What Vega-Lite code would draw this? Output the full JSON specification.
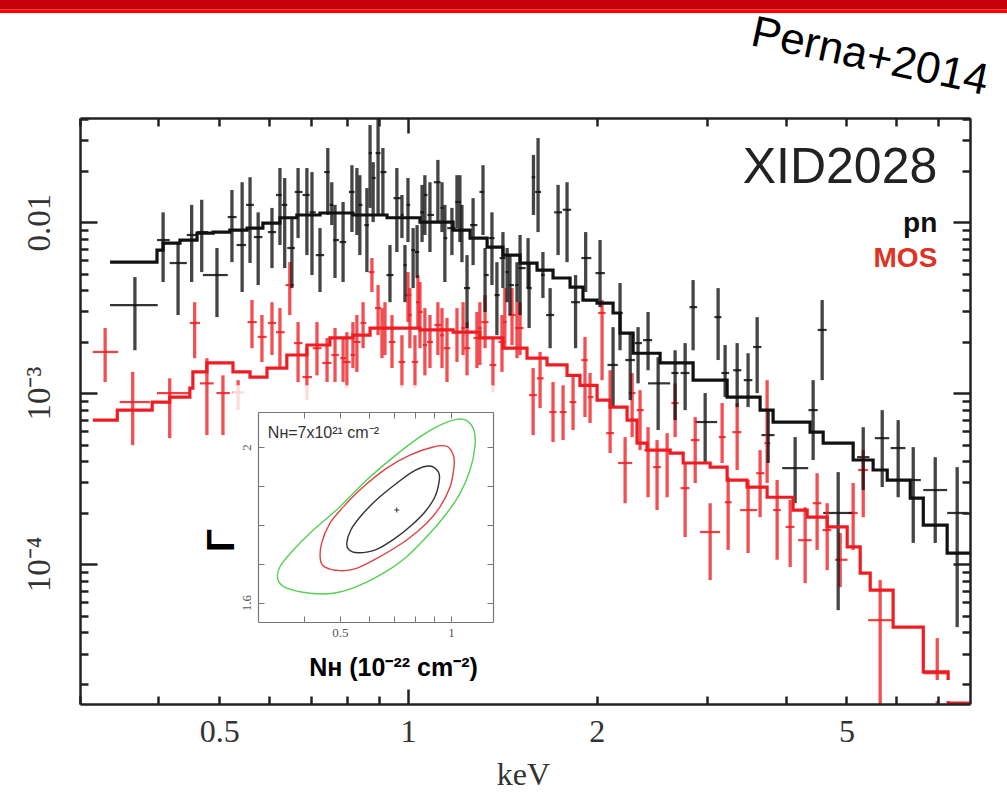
{
"$schema": "https://vega.github.io/schema/vega-lite/v6.json",
"width": 890, "height": 586,
"autosize": {"type": "none"},
"padding": {"left": 80, "top": 118, "right": 37, "bottom": 88},
"background": "white",
"config": {"view": {"stroke": null}},
"datasets": {
"spec": [
{"det":"MOS","e":0.329,"elo":0.3145,"ehi":0.345,"f":0.00174,"flo":0.00116,"fhi":0.0024},
{"det":"MOS","e":0.364,"elo":0.347,"ehi":0.388,"f":0.000886,"flo":0.000496,"fhi":0.00133},
{"det":"MOS","e":0.417,"elo":0.398,"ehi":0.449,"f":0.001,"flo":0.000545,"fhi":0.00122},
{"det":"MOS","e":0.457,"elo":0.449,"ehi":0.466,"f":0.00257,"flo":0.0016,"fhi":0.0034},
{"det":"MOS","e":0.478,"elo":0.466,"ehi":0.49,"f":0.00114,"flo":0.000568,"fhi":0.0016},
{"det":"MOS","e":0.507,"elo":0.495,"ehi":0.52,"f":0.001,"flo":0.000568,"fhi":0.00127},
{"det":"MOS","e":0.536,"elo":0.525,"ehi":0.548,"f":0.00101,"flo":0.000795,"fhi":0.00119},
{"det":"MOS","e":0.564,"elo":0.555,"ehi":0.574,"f":0.0026,"flo":0.00183,"fhi":0.0035},
{"det":"MOS","e":0.585,"elo":0.576,"ehi":0.595,"f":0.00213,"flo":0.00152,"fhi":0.00286},
{"det":"MOS","e":0.607,"elo":0.598,"ehi":0.616,"f":0.00257,"flo":0.00167,"fhi":0.0034},
{"det":"MOS","e":0.625,"elo":0.616,"ehi":0.636,"f":0.00227,"flo":0.0014,"fhi":0.00314},
{"det":"MOS","e":0.648,"elo":0.638,"ehi":0.658,"f":0.00428,"flo":0.00286,"fhi":0.00583},
{"det":"MOS","e":0.668,"elo":0.658,"ehi":0.679,"f":0.00196,"flo":0.00116,"fhi":0.0026},
{"det":"MOS","e":0.69,"elo":0.679,"ehi":0.703,"f":0.00124,"flo":0.00091,"fhi":0.00183},
{"det":"MOS","e":0.716,"elo":0.705,"ehi":0.728,"f":0.00183,"flo":0.00127,"fhi":0.0026},
{"det":"MOS","e":0.743,"elo":0.73,"ehi":0.755,"f":0.0015,"flo":0.00116,"fhi":0.0021},
{"det":"MOS","e":0.765,"elo":0.755,"ehi":0.776,"f":0.00167,"flo":0.00116,"fhi":0.0024},
{"det":"MOS","e":0.788,"elo":0.78,"ehi":0.796,"f":0.0016,"flo":0.00116,"fhi":0.0021},
{"det":"MOS","e":0.799,"elo":0.788,"ehi":0.81,"f":0.00152,"flo":0.00107,"fhi":0.00227},
{"det":"MOS","e":0.817,"elo":0.81,"ehi":0.824,"f":0.00167,"flo":0.0014,"fhi":0.0026},
{"det":"MOS","e":0.829,"elo":0.818,"ehi":0.84,"f":0.00199,"flo":0.00133,"fhi":0.00286},
{"det":"MOS","e":0.848,"elo":0.84,"ehi":0.858,"f":0.00257,"flo":0.00183,"fhi":0.0034},
{"det":"MOS","e":0.876,"elo":0.866,"ehi":0.884,"f":0.0051,"flo":0.0039,"fhi":0.00616},
{"det":"MOS","e":0.896,"elo":0.886,"ehi":0.906,"f":0.00314,"flo":0.00218,"fhi":0.00428},
{"det":"MOS","e":0.909,"elo":0.902,"ehi":0.916,"f":0.0024,"flo":0.0016,"fhi":0.00314},
{"det":"MOS","e":0.919,"elo":0.908,"ehi":0.93,"f":0.0024,"flo":0.00167,"fhi":0.0034},
{"det":"MOS","e":0.943,"elo":0.932,"ehi":0.955,"f":0.00199,"flo":0.0014,"fhi":0.00286},
{"det":"MOS","e":0.978,"elo":0.966,"ehi":0.99,"f":0.00152,"flo":0.00107,"fhi":0.00218},
{"det":"MOS","e":1.0,"elo":0.99,"ehi":1.012,"f":0.00374,"flo":0.0026,"fhi":0.0051},
{"det":"MOS","e":1.007,"elo":1.0,"ehi":1.014,"f":0.00286,"flo":0.00183,"fhi":0.00411},
{"det":"MOS","e":1.026,"elo":1.014,"ehi":1.038,"f":0.00152,"flo":0.00107,"fhi":0.00218},
{"det":"MOS","e":1.037,"elo":1.03,"ehi":1.044,"f":0.0034,"flo":0.0024,"fhi":0.0049},
{"det":"MOS","e":1.045,"elo":1.038,"ehi":1.055,"f":0.00298,"flo":0.00183,"fhi":0.00446},
{"det":"MOS","e":1.064,"elo":1.056,"ehi":1.072,"f":0.00191,"flo":0.00127,"fhi":0.00314},
{"det":"MOS","e":1.084,"elo":1.072,"ehi":1.096,"f":0.00199,"flo":0.0014,"fhi":0.00286},
{"det":"MOS","e":1.116,"elo":1.102,"ehi":1.13,"f":0.0025,"flo":0.00167,"fhi":0.0034},
{"det":"MOS","e":1.133,"elo":1.125,"ehi":1.141,"f":0.00218,"flo":0.0014,"fhi":0.00314},
{"det":"MOS","e":1.154,"elo":1.14,"ehi":1.168,"f":0.00183,"flo":0.00116,"fhi":0.00275},
{"det":"MOS","e":1.197,"elo":1.182,"ehi":1.212,"f":0.00227,"flo":0.00152,"fhi":0.00314},
{"det":"MOS","e":1.224,"elo":1.216,"ehi":1.232,"f":0.0024,"flo":0.00167,"fhi":0.0034},
{"det":"MOS","e":1.242,"elo":1.227,"ehi":1.257,"f":0.00183,"flo":0.00127,"fhi":0.0026},
{"det":"MOS","e":1.288,"elo":1.272,"ehi":1.304,"f":0.0021,"flo":0.0014,"fhi":0.00298},
{"det":"MOS","e":1.302,"elo":1.294,"ehi":1.31,"f":0.0024,"flo":0.00146,"fhi":0.0034},
{"det":"MOS","e":1.327,"elo":1.31,"ehi":1.344,"f":0.0026,"flo":0.00183,"fhi":0.00374},
{"det":"MOS","e":1.366,"elo":1.349,"ehi":1.383,"f":0.00146,"flo":0.00101,"fhi":0.0021},
{"det":"MOS","e":1.412,"elo":1.394,"ehi":1.43,"f":0.00199,"flo":0.00133,"fhi":0.00286},
{"det":"MOS","e":1.427,"elo":1.418,"ehi":1.436,"f":0.0026,"flo":0.00183,"fhi":0.00411},
{"det":"MOS","e":1.465,"elo":1.446,"ehi":1.484,"f":0.00286,"flo":0.00191,"fhi":0.00411},
{"det":"MOS","e":1.492,"elo":1.483,"ehi":1.5,"f":0.0024,"flo":0.0016,"fhi":0.0034},
{"det":"MOS","e":1.509,"elo":1.49,"ehi":1.528,"f":0.0024,"flo":0.00167,"fhi":0.0034},
{"det":"MOS","e":1.583,"elo":1.56,"ehi":1.605,"f":0.000973,"flo":0.000568,"fhi":0.0014},
{"det":"MOS","e":1.624,"elo":1.605,"ehi":1.645,"f":0.00122,"flo":0.000817,"fhi":0.00174},
{"det":"MOS","e":1.703,"elo":1.68,"ehi":1.725,"f":0.000774,"flo":0.000517,"fhi":0.00116},
{"det":"MOS","e":1.767,"elo":1.745,"ehi":1.79,"f":0.000774,"flo":0.000531,"fhi":0.00111},
{"det":"MOS","e":1.833,"elo":1.81,"ehi":1.855,"f":0.000886,"flo":0.000608,"fhi":0.00127},
{"det":"MOS","e":1.915,"elo":1.89,"ehi":1.935,"f":0.00156,"flo":0.000724,"fhi":0.00213},
{"det":"MOS","e":1.951,"elo":1.935,"ehi":1.975,"f":0.000947,"flo":0.000668,"fhi":0.00131},
{"det":"MOS","e":2.039,"elo":2.01,"ehi":2.065,"f":0.00294,"flo":0.00119,"fhi":0.0035},
{"det":"MOS","e":2.1,"elo":2.07,"ehi":2.13,"f":0.000583,"flo":0.000446,"fhi":0.00136},
{"det":"MOS","e":2.219,"elo":2.162,"ehi":2.277,"f":0.00039,"flo":0.000227,"fhi":0.000553},
{"det":"MOS","e":2.277,"elo":2.25,"ehi":2.305,"f":0.001,"flo":0.000553,"fhi":0.00131},
{"det":"MOS","e":2.344,"elo":2.315,"ehi":2.375,"f":0.000795,"flo":0.000464,"fhi":0.00104},
{"det":"MOS","e":2.414,"elo":2.38,"ehi":2.45,"f":0.000464,"flo":0.000246,"fhi":0.000632},
{"det":"MOS","e":2.495,"elo":2.46,"ehi":2.53,"f":0.000369,"flo":0.000207,"fhi":0.000531},
{"det":"MOS","e":2.589,"elo":2.55,"ehi":2.625,"f":0.000464,"flo":0.000246,"fhi":0.000583},
{"det":"MOS","e":2.666,"elo":2.63,"ehi":2.7,"f":0.000874,"flo":0.000553,"fhi":0.00114},
{"det":"MOS","e":2.766,"elo":2.72,"ehi":2.81,"f":0.000278,"flo":0.000144,"fhi":0.00039},
{"det":"MOS","e":2.87,"elo":2.825,"ehi":2.915,"f":0.000531,"flo":0.000298,"fhi":0.000724},
{"det":"MOS","e":3.032,"elo":2.922,"ehi":3.145,"f":0.000154,"flo":0.0000806,"fhi":0.000227},
{"det":"MOS","e":3.168,"elo":3.13,"ehi":3.21,"f":0.000553,"flo":0.00039,"fhi":0.000874},
{"det":"MOS","e":3.239,"elo":3.2,"ehi":3.28,"f":0.00023,"flo":0.000121,"fhi":0.000323},
{"det":"MOS","e":3.348,"elo":3.29,"ehi":3.4,"f":0.000591,"flo":0.000355,"fhi":0.000874},
{"det":"MOS","e":3.485,"elo":3.385,"ehi":3.603,"f":0.000207,"flo":0.000116,"fhi":0.00031},
{"det":"MOS","e":3.642,"elo":3.59,"ehi":3.7,"f":0.00034,"flo":0.000188,"fhi":0.000464},
{"det":"MOS","e":3.737,"elo":3.7,"ehi":3.78,"f":0.00051,"flo":0.000298,"fhi":0.00119},
{"det":"MOS","e":3.877,"elo":3.82,"ehi":3.93,"f":0.000207,"flo":0.000106,"fhi":0.00031},
{"det":"MOS","e":4.067,"elo":4.0,"ehi":4.13,"f":0.000165,"flo":0.0000961,"fhi":0.000237},
{"det":"MOS","e":4.297,"elo":4.188,"ehi":4.4,"f":0.000138,"flo":0.0000774,"fhi":0.000215},
{"det":"MOS","e":4.49,"elo":4.42,"ehi":4.56,"f":0.000227,"flo":0.000121,"fhi":0.00034},
{"det":"MOS","e":4.659,"elo":4.58,"ehi":4.73,"f":0.000158,"flo":0.0000922,"fhi":0.000227},
{"det":"MOS","e":4.887,"elo":4.797,"ehi":5.02,"f":0.000106,"flo":0.0000733,"fhi":0.000152},
{"det":"MOS","e":5.125,"elo":5.04,"ehi":5.21,"f":0.000199,"flo":0.000121,"fhi":0.000298},
{"det":"MOS","e":5.318,"elo":5.22,"ehi":5.41,"f":0.000355,"flo":0.000188,"fhi":0.000464},
{"det":"MOS","e":5.659,"elo":5.415,"ehi":5.935,"f":0.000047,"flo":0.0000152,"fhi":0.0000806},
{"det":"MOS","e":6.979,"elo":6.63,"ehi":7.263,"f":0.000023,"flo":0.0000152,"fhi":0.0000369},
{"det":"pn","e":0.367,"elo":0.335,"ehi":0.399,"f":0.00327,"flo":0.00178,"fhi":0.00477},
{"det":"pn","e":0.407,"elo":0.398,"ehi":0.417,"f":0.00785,"flo":0.00446,"fhi":0.0114},
{"det":"pn","e":0.43,"elo":0.417,"ehi":0.444,"f":0.00576,"flo":0.00286,"fhi":0.00754},
{"det":"pn","e":0.452,"elo":0.444,"ehi":0.461,"f":0.0084,"flo":0.00446,"fhi":0.0126},
{"det":"pn","e":0.469,"elo":0.461,"ehi":0.48,"f":0.00874,"flo":0.0051,"fhi":0.0135},
{"det":"pn","e":0.496,"elo":0.471,"ehi":0.516,"f":0.0049,"flo":0.00278,"fhi":0.00705},
{"det":"pn","e":0.524,"elo":0.516,"ehi":0.533,"f":0.0107,"flo":0.00583,"fhi":0.0154},
{"det":"pn","e":0.544,"elo":0.533,"ehi":0.552,"f":0.00734,"flo":0.0039,"fhi":0.0171},
{"det":"pn","e":0.56,"elo":0.552,"ehi":0.568,"f":0.0126,"flo":0.00576,"fhi":0.0183},
{"det":"pn","e":0.577,"elo":0.568,"ehi":0.586,"f":0.00817,"flo":0.00428,"fhi":0.0114},
{"det":"pn","e":0.607,"elo":0.598,"ehi":0.616,"f":0.00874,"flo":0.00538,"fhi":0.0121},
{"det":"pn","e":0.625,"elo":0.616,"ehi":0.629,"f":0.0144,"flo":0.00734,"fhi":0.0207},
{"det":"pn","e":0.636,"elo":0.629,"ehi":0.642,"f":0.0126,"flo":0.00538,"fhi":0.0181},
{"det":"pn","e":0.653,"elo":0.642,"ehi":0.66,"f":0.00705,"flo":0.00411,"fhi":0.0106},
{"det":"pn","e":0.668,"elo":0.66,"ehi":0.679,"f":0.015,"flo":0.00806,"fhi":0.0207},
{"det":"pn","e":0.69,"elo":0.679,"ehi":0.697,"f":0.0144,"flo":0.00641,"fhi":0.0207},
{"det":"pn","e":0.703,"elo":0.697,"ehi":0.713,"f":0.0114,"flo":0.0049,"fhi":0.0196},
{"det":"pn","e":0.724,"elo":0.713,"ehi":0.735,"f":0.00641,"flo":0.0039,"fhi":0.00922},
{"det":"pn","e":0.745,"elo":0.735,"ehi":0.75,"f":0.0196,"flo":0.011,"fhi":0.0271},
{"det":"pn","e":0.756,"elo":0.75,"ehi":0.76,"f":0.0126,"flo":0.0096,"fhi":0.0171},
{"det":"pn","e":0.765,"elo":0.76,"ehi":0.776,"f":0.00785,"flo":0.00471,"fhi":0.0126},
{"det":"pn","e":0.788,"elo":0.778,"ehi":0.797,"f":0.00764,"flo":0.00446,"fhi":0.0131},
{"det":"pn","e":0.814,"elo":0.805,"ehi":0.822,"f":0.015,"flo":0.00874,"fhi":0.0215},
{"det":"pn","e":0.829,"elo":0.822,"ehi":0.834,"f":0.011,"flo":0.0084,"fhi":0.0207},
{"det":"pn","e":0.838,"elo":0.834,"ehi":0.846,"f":0.0126,"flo":0.00641,"fhi":0.0188},
{"det":"pn","e":0.86,"elo":0.852,"ehi":0.866,"f":0.0096,"flo":0.0051,"fhi":0.0158},
{"det":"pn","e":0.87,"elo":0.866,"ehi":0.876,"f":0.0253,"flo":0.0121,"fhi":0.0369},
{"det":"pn","e":0.88,"elo":0.876,"ehi":0.888,"f":0.0181,"flo":0.01,"fhi":0.0224},
{"det":"pn","e":0.896,"elo":0.888,"ehi":0.904,"f":0.0253,"flo":0.011,"fhi":0.0406},
{"det":"pn","e":0.912,"elo":0.904,"ehi":0.924,"f":0.0196,"flo":0.011,"fhi":0.0271},
{"det":"pn","e":0.936,"elo":0.924,"ehi":0.948,"f":0.0049,"flo":0.0034,"fhi":0.00734},
{"det":"pn","e":0.96,"elo":0.948,"ehi":0.974,"f":0.0138,"flo":0.00668,"fhi":0.0207},
{"det":"pn","e":0.978,"elo":0.974,"ehi":0.984,"f":0.011,"flo":0.00806,"fhi":0.0144},
{"det":"pn","e":0.989,"elo":0.984,"ehi":0.995,"f":0.0056,"flo":0.0034,"fhi":0.00734},
{"det":"pn","e":1.0,"elo":0.995,"ehi":1.008,"f":0.0126,"flo":0.00764,"fhi":0.0181},
{"det":"pn","e":1.019,"elo":1.012,"ehi":1.026,"f":0.00686,"flo":0.00411,"fhi":0.00922},
{"det":"pn","e":1.034,"elo":1.026,"ehi":1.042,"f":0.00668,"flo":0.00471,"fhi":0.0096},
{"det":"pn","e":1.053,"elo":1.046,"ehi":1.06,"f":0.0114,"flo":0.00764,"fhi":0.0165},
{"det":"pn","e":1.064,"elo":1.06,"ehi":1.074,"f":0.0144,"flo":0.0084,"fhi":0.0188},
{"det":"pn","e":1.084,"elo":1.074,"ehi":1.1,"f":0.011,"flo":0.00668,"fhi":0.0171},
{"det":"pn","e":1.116,"elo":1.1,"ehi":1.127,"f":0.0171,"flo":0.01,"fhi":0.0231},
{"det":"pn","e":1.133,"elo":1.127,"ehi":1.14,"f":0.0121,"flo":0.00874,"fhi":0.0171},
{"det":"pn","e":1.145,"elo":1.14,"ehi":1.155,"f":0.00806,"flo":0.00446,"fhi":0.0126},
{"det":"pn","e":1.175,"elo":1.155,"ehi":1.19,"f":0.00922,"flo":0.00641,"fhi":0.0121},
{"det":"pn","e":1.197,"elo":1.19,"ehi":1.205,"f":0.0131,"flo":0.00922,"fhi":0.0188},
{"det":"pn","e":1.21,"elo":1.205,"ehi":1.215,"f":0.0131,"flo":0.00764,"fhi":0.0188},
{"det":"pn","e":1.219,"elo":1.215,"ehi":1.228,"f":0.00898,"flo":0.00583,"fhi":0.0126},
{"det":"pn","e":1.242,"elo":1.228,"ehi":1.256,"f":0.00411,"flo":0.0024,"fhi":0.00641},
{"det":"pn","e":1.27,"elo":1.256,"ehi":1.29,"f":0.0096,"flo":0.0056,"fhi":0.0138},
{"det":"pn","e":1.317,"elo":1.3,"ehi":1.322,"f":0.015,"flo":0.0084,"fhi":0.0215},
{"det":"pn","e":1.327,"elo":1.322,"ehi":1.345,"f":0.0049,"flo":0.00298,"fhi":0.00705},
{"det":"pn","e":1.361,"elo":1.345,"ehi":1.374,"f":0.00806,"flo":0.00428,"fhi":0.0114},
{"det":"pn","e":1.386,"elo":1.374,"ehi":1.4,"f":0.00374,"flo":0.00218,"fhi":0.00583},
{"det":"pn","e":1.417,"elo":1.4,"ehi":1.43,"f":0.00616,"flo":0.00411,"fhi":0.00874},
{"det":"pn","e":1.439,"elo":1.43,"ehi":1.448,"f":0.0051,"flo":0.0034,"fhi":0.00705},
{"det":"pn","e":1.454,"elo":1.448,"ehi":1.475,"f":0.00428,"flo":0.00286,"fhi":0.00641},
{"det":"pn","e":1.492,"elo":1.483,"ehi":1.5,"f":0.00428,"flo":0.0034,"fhi":0.00583},
{"det":"pn","e":1.509,"elo":1.5,"ehi":1.54,"f":0.00538,"flo":0.00286,"fhi":0.0084},
{"det":"pn","e":1.554,"elo":1.545,"ehi":1.563,"f":0.00576,"flo":0.00411,"fhi":0.00806},
{"det":"pn","e":1.56,"elo":1.545,"ehi":1.575,"f":0.00411,"flo":0.0024,"fhi":0.00583},
{"det":"pn","e":1.585,"elo":1.575,"ehi":1.595,"f":0.0183,"flo":0.011,"fhi":0.0247},
{"det":"pn","e":1.612,"elo":1.595,"ehi":1.63,"f":0.015,"flo":0.00874,"fhi":0.031},
{"det":"pn","e":1.641,"elo":1.63,"ehi":1.652,"f":0.0049,"flo":0.0036,"fhi":0.00668},
{"det":"pn","e":1.685,"elo":1.66,"ehi":1.71,"f":0.00286,"flo":0.00183,"fhi":0.00411},
{"det":"pn","e":1.735,"elo":1.71,"ehi":1.76,"f":0.0114,"flo":0.00641,"fhi":0.0165},
{"det":"pn","e":1.793,"elo":1.765,"ehi":1.82,"f":0.0118,"flo":0.00583,"fhi":0.0171},
{"det":"pn","e":1.85,"elo":1.82,"ehi":1.88,"f":0.0034,"flo":0.00183,"fhi":0.0049},
{"det":"pn","e":1.92,"elo":1.89,"ehi":1.96,"f":0.00616,"flo":0.0039,"fhi":0.00874},
{"det":"pn","e":2.024,"elo":1.99,"ehi":2.06,"f":0.00503,"flo":0.00318,"fhi":0.00785},
{"det":"pn","e":2.123,"elo":2.08,"ehi":2.16,"f":0.00146,"flo":0.000828,"fhi":0.00243},
{"det":"pn","e":2.178,"elo":2.16,"ehi":2.2,"f":0.00294,"flo":0.00178,"fhi":0.0044},
{"det":"pn","e":2.261,"elo":2.22,"ehi":2.3,"f":0.00156,"flo":0.00091,"fhi":0.00224},
{"det":"pn","e":2.327,"elo":2.3,"ehi":2.36,"f":0.00196,"flo":0.00114,"fhi":0.00243},
{"det":"pn","e":2.414,"elo":2.37,"ehi":2.45,"f":0.00204,"flo":0.00136,"fhi":0.00298},
{"det":"pn","e":2.505,"elo":2.414,"ehi":2.618,"f":0.00114,"flo":0.000608,"fhi":0.00162},
{"det":"pn","e":2.666,"elo":2.63,"ehi":2.7,"f":0.00131,"flo":0.000695,"fhi":0.00178},
{"det":"pn","e":2.766,"elo":2.72,"ehi":2.81,"f":0.00131,"flo":0.000795,"fhi":0.00196},
{"det":"pn","e":2.848,"elo":2.81,"ehi":2.89,"f":0.00318,"flo":0.00178,"fhi":0.00458},
{"det":"pn","e":2.977,"elo":2.87,"ehi":3.111,"f":0.000677,"flo":0.00039,"fhi":0.001},
{"det":"pn","e":3.122,"elo":3.08,"ehi":3.16,"f":0.00278,"flo":0.00156,"fhi":0.00411},
{"det":"pn","e":3.203,"elo":3.16,"ehi":3.25,"f":0.00131,"flo":0.000947,"fhi":0.00191},
{"det":"pn","e":3.348,"elo":3.3,"ehi":3.4,"f":0.00136,"flo":0.000828,"fhi":0.00196},
{"det":"pn","e":3.485,"elo":3.43,"ehi":3.54,"f":0.00119,"flo":0.000828,"fhi":0.00171},
{"det":"pn","e":3.603,"elo":3.55,"ehi":3.66,"f":0.00186,"flo":0.001,"fhi":0.00278},
{"det":"pn","e":3.752,"elo":3.66,"ehi":3.84,"f":0.000568,"flo":0.00039,"fhi":0.000795},
{"det":"pn","e":4.142,"elo":3.95,"ehi":4.345,"f":0.000364,"flo":0.000227,"fhi":0.000553},
{"det":"pn","e":4.425,"elo":4.35,"ehi":4.5,"f":0.000795,"flo":0.000406,"fhi":0.00119},
{"det":"pn","e":4.574,"elo":4.5,"ehi":4.65,"f":0.00234,"flo":0.00119,"fhi":0.0035},
{"det":"pn","e":4.851,"elo":4.591,"ehi":5.125,"f":0.000199,"flo":0.0000538,"fhi":0.000345},
{"det":"pn","e":5.318,"elo":5.2,"ehi":5.44,"f":0.000422,"flo":0.000271,"fhi":0.000632},
{"det":"pn","e":5.702,"elo":5.55,"ehi":5.85,"f":0.000545,"flo":0.000282,"fhi":0.000795},
{"det":"pn","e":6.046,"elo":5.88,"ehi":6.21,"f":0.000477,"flo":0.000246,"fhi":0.000695},
{"det":"pn","e":6.39,"elo":6.21,"ehi":6.57,"f":0.00031,"flo":0.000133,"fhi":0.000483},
{"det":"pn","e":6.927,"elo":6.63,"ehi":7.237,"f":0.000271,"flo":0.000133,"fhi":0.000422},
{"det":"pn","e":7.508,"elo":7.237,"ehi":7.8,"f":0.000199,"flo":0.0000428,"fhi":0.000369}
],
"model": [
{"det":"MOS","e":0.3145,"f":0.000695},{"det":"MOS","e":0.344,"f":0.000795},{"det":"MOS","e":0.391,"f":0.000886},{"det":"MOS","e":0.417,"f":0.000947},{"det":"MOS","e":0.449,"f":0.00107},{"det":"MOS","e":0.454,"f":0.00133},{"det":"MOS","e":0.478,"f":0.0015},{"det":"MOS","e":0.526,"f":0.00133},{"det":"MOS","e":0.56,"f":0.00124},{"det":"MOS","e":0.596,"f":0.0014},{"det":"MOS","e":0.641,"f":0.00167},{"det":"MOS","e":0.69,"f":0.00191},{"det":"MOS","e":0.751,"f":0.0021},{"det":"MOS","e":0.817,"f":0.00218},{"det":"MOS","e":0.87,"f":0.0024},{"det":"MOS","e":1.045,"f":0.00234},{"det":"MOS","e":1.18,"f":0.00227},{"det":"MOS","e":1.302,"f":0.0021},{"det":"MOS","e":1.417,"f":0.00183},{"det":"MOS","e":1.548,"f":0.0016},{"det":"MOS","e":1.666,"f":0.00146},{"det":"MOS","e":1.793,"f":0.00127},{"det":"MOS","e":1.88,"f":0.00111},{"det":"MOS","e":2.002,"f":0.00091},{"det":"MOS","e":2.1,"f":0.000828},{"det":"MOS","e":2.235,"f":0.000695},{"det":"MOS","e":2.318,"f":0.00051},{"det":"MOS","e":2.405,"f":0.000464},{"det":"MOS","e":2.618,"f":0.000446},{"det":"MOS","e":2.746,"f":0.00039},{"det":"MOS","e":3.032,"f":0.000369},{"det":"MOS","e":3.227,"f":0.00031},{"det":"MOS","e":3.472,"f":0.000282},{"det":"MOS","e":3.737,"f":0.000246},{"det":"MOS","e":4.111,"f":0.000207},{"det":"MOS","e":4.329,"f":0.000188},{"det":"MOS","e":4.659,"f":0.000165},{"det":"MOS","e":5.014,"f":0.000126},{"det":"MOS","e":5.259,"f":0.0000886},{"det":"MOS","e":5.456,"f":0.0000705},{"det":"MOS","e":5.935,"f":0.0000428},{"det":"MOS","e":6.63,"f":0.0000234},{"det":"MOS","e":7.263,"f":0.0000154},{"det":"MOS","e":7.87,"f":0.0000154},
{"det":"pn","e":0.335,"f":0.00583},{"det":"pn","e":0.398,"f":0.00686},{"det":"pn","e":0.407,"f":0.00754},{"det":"pn","e":0.433,"f":0.00785},{"det":"pn","e":0.461,"f":0.00862},{"det":"pn","e":0.489,"f":0.00874},{"det":"pn","e":0.52,"f":0.00898},{"det":"pn","e":0.554,"f":0.00922},{"det":"pn","e":0.587,"f":0.00987},{"det":"pn","e":0.625,"f":0.0106},{"det":"pn","e":0.665,"f":0.011},{"det":"pn","e":0.724,"f":0.0113},{"det":"pn","e":0.817,"f":0.011},{"det":"pn","e":0.926,"f":0.0106},{"det":"pn","e":1.045,"f":0.01},{"det":"pn","e":1.18,"f":0.00898},{"det":"pn","e":1.256,"f":0.00806},{"det":"pn","e":1.337,"f":0.00714},{"det":"pn","e":1.417,"f":0.00641},{"det":"pn","e":1.509,"f":0.00576},{"det":"pn","e":1.606,"f":0.00524},{"det":"pn","e":1.703,"f":0.00471},{"det":"pn","e":1.813,"f":0.00417},{"det":"pn","e":1.901,"f":0.0035},{"det":"pn","e":2.002,"f":0.00336},{"det":"pn","e":2.123,"f":0.00294},{"det":"pn","e":2.178,"f":0.00224},{"det":"pn","e":2.285,"f":0.00171},{"det":"pn","e":2.523,"f":0.0015},{"det":"pn","e":2.848,"f":0.00119},{"det":"pn","e":3.227,"f":0.000947},{"det":"pn","e":3.642,"f":0.000795},{"det":"pn","e":3.82,"f":0.000677},{"det":"pn","e":4.376,"f":0.000591},{"det":"pn","e":4.591,"f":0.00051},{"det":"pn","e":5.125,"f":0.000406},{"det":"pn","e":5.515,"f":0.000355},{"det":"pn","e":5.808,"f":0.00031},{"det":"pn","e":6.32,"f":0.000243},{"det":"pn","e":6.63,"f":0.000169},{"det":"pn","e":7.237,"f":0.000116},{"det":"pn","e":7.87,"f":0.000116}
],
"cont": [
{"lvl":"a","i":0,"nh":0.924,"g":1.936},{"lvl":"a","i":1,"nh":0.93,"g":1.915},{"lvl":"a","i":2,"nh":0.905,"g":1.872},{"lvl":"a","i":3,"nh":0.85,"g":1.833},{"lvl":"a","i":4,"nh":0.782,"g":1.799},{"lvl":"a","i":5,"nh":0.705,"g":1.765},{"lvl":"a","i":6,"nh":0.629,"g":1.737},{"lvl":"a","i":7,"nh":0.561,"g":1.728},{"lvl":"a","i":8,"nh":0.53,"g":1.735},{"lvl":"a","i":9,"nh":0.522,"g":1.752},{"lvl":"a","i":10,"nh":0.535,"g":1.786},{"lvl":"a","i":11,"nh":0.573,"g":1.825},{"lvl":"a","i":12,"nh":0.635,"g":1.868},{"lvl":"a","i":13,"nh":0.72,"g":1.91},{"lvl":"a","i":14,"nh":0.799,"g":1.94},{"lvl":"a","i":15,"nh":0.877,"g":1.951},
{"lvl":"b","i":0,"nh":0.973,"g":2.002},{"lvl":"b","i":1,"nh":1.015,"g":1.979},{"lvl":"b","i":2,"nh":1.019,"g":1.949},{"lvl":"b","i":3,"nh":0.994,"g":1.897},{"lvl":"b","i":4,"nh":0.934,"g":1.846},{"lvl":"b","i":5,"nh":0.859,"g":1.804},{"lvl":"b","i":6,"nh":0.759,"g":1.761},{"lvl":"b","i":7,"nh":0.642,"g":1.718},{"lvl":"b","i":8,"nh":0.555,"g":1.688},{"lvl":"b","i":9,"nh":0.5,"g":1.682},{"lvl":"b","i":10,"nh":0.456,"g":1.691},{"lvl":"b","i":11,"nh":0.443,"g":1.709},{"lvl":"b","i":12,"nh":0.446,"g":1.752},{"lvl":"b","i":13,"nh":0.47,"g":1.804},{"lvl":"b","i":14,"nh":0.511,"g":1.846},{"lvl":"b","i":15,"nh":0.578,"g":1.897},{"lvl":"b","i":16,"nh":0.669,"g":1.945},{"lvl":"b","i":17,"nh":0.774,"g":1.979},{"lvl":"b","i":18,"nh":0.895,"g":2.0},
{"lvl":"c","i":0,"nh":1.036,"g":2.071},{"lvl":"c","i":1,"nh":1.103,"g":2.068},{"lvl":"c","i":2,"nh":1.154,"g":2.043},{"lvl":"c","i":3,"nh":1.161,"g":2.0},{"lvl":"c","i":4,"nh":1.126,"g":1.94},{"lvl":"c","i":5,"nh":1.058,"g":1.88},{"lvl":"c","i":6,"nh":0.973,"g":1.829},{"lvl":"c","i":7,"nh":0.877,"g":1.778},{"lvl":"c","i":8,"nh":0.759,"g":1.718},{"lvl":"c","i":9,"nh":0.655,"g":1.675},{"lvl":"c","i":10,"nh":0.555,"g":1.641},{"lvl":"c","i":11,"nh":0.48,"g":1.624},{"lvl":"c","i":12,"nh":0.415,"g":1.624},{"lvl":"c","i":13,"nh":0.359,"g":1.637},{"lvl":"c","i":14,"nh":0.34,"g":1.658},{"lvl":"c","i":15,"nh":0.344,"g":1.692},{"lvl":"c","i":16,"nh":0.374,"g":1.735},{"lvl":"c","i":17,"nh":0.423,"g":1.786},{"lvl":"c","i":18,"nh":0.5,"g":1.846},{"lvl":"c","i":19,"nh":0.591,"g":1.915},{"lvl":"c","i":20,"nh":0.698,"g":1.974},{"lvl":"c","i":21,"nh":0.824,"g":2.026},{"lvl":"c","i":22,"nh":0.934,"g":2.056}
]
},
"layer": [
{
"layer": [
{
"data": {"name": "spec"},
"mark": {"type": "rule", "strokeWidth": 2.2, "opacity": 0.85},
"encoding": {
"x": {"field": "elo", "type": "quantitative", "scale": {"type": "log", "domain": [0.3, 7.87], "nice": false},
 "axis": {"orient": "bottom", "values": [0.5, 1, 2, 5], "format": "~g", "ticks": false, "domain": true, "domainColor": "#222", "domainWidth": 2.5, "labelFont": "Liberation Serif", "labelFontSize": 32, "labelColor": "#333", "labelPadding": 12, "labelFlush": false, "labelOverlap": false, "grid": false, "zindex": 1,
  "title": "keV", "titleFont": "Liberation Serif", "titleFontSize": 32, "titleFontWeight": "normal", "titleColor": "#333", "titleX": 443, "titleY": 80, "titleBaseline": "alphabetic", "titleAlign": "center"}},
"x2": {"field": "ehi"},
"y": {"field": "f", "type": "quantitative", "scale": {"type": "log", "domain": [0.0000152, 0.0406], "nice": false},
 "axis": {"orient": "left", "values": [0.01, 0.001, 0.0001], "ticks": false, "domain": true, "domainColor": "#222", "domainWidth": 2.5, "labelExpr": "datum.value > 0.005 ? '0.01' : (datum.value > 0.0005 ? '10⁻³' : '10⁻⁴')", "labelAngle": -90, "labelAlign": "center", "labelBaseline": "bottom", "labelFont": "Liberation Serif", "labelFontSize": 33, "labelColor": "#333", "labelPadding": 24, "labelFlush": false, "labelOverlap": false, "grid": false, "zindex": 1, "title": null}},
"color": {"field": "det", "type": "nominal", "scale": {"domain": ["MOS", "pn"], "range": ["#ee1d23", "#111111"]}, "legend": null}
}
},
{
"data": {"name": "spec"},
"mark": {"type": "rule", "strokeWidth": 3.3, "opacity": 0.78},
"encoding": {
"x": {"field": "e", "type": "quantitative", "scale": {"type": "log", "domain": [0.3, 7.87], "nice": false},
 "axis": {"orient": "bottom", "values": [0.3, 0.4, 0.5, 0.6, 0.7, 0.8, 0.9, 1, 2, 3, 4, 5, 6, 7], "labels": false, "domain": false, "ticks": true, "tickColor": "#222", "tickWidth": 2.5, "tickSize": {"condition": {"test": "datum.value == 1", "value": -15}, "value": -8}, "grid": false, "zindex": 1, "title": null}},
"y": {"field": "flo", "type": "quantitative", "scale": {"type": "log", "domain": [0.0000152, 0.0406], "nice": false},
 "axis": {"orient": "left", "values": [0.00002, 0.00003, 0.00004, 0.00005, 0.00006, 0.00007, 0.00008, 0.00009, 0.0001, 0.0002, 0.0003, 0.0004, 0.0005, 0.0006, 0.0007, 0.0008, 0.0009, 0.001, 0.002, 0.003, 0.004, 0.005, 0.006, 0.007, 0.008, 0.009, 0.01, 0.02, 0.03, 0.04], "labels": false, "domain": false, "ticks": true, "tickColor": "#222", "tickWidth": 2.5, "tickSize": {"condition": {"test": "abs(log(datum.value)/LN10 - round(log(datum.value)/LN10)) < 0.01", "value": -17}, "value": -8}, "grid": false, "zindex": 1, "title": null}},
"y2": {"field": "fhi"},
"color": {"field": "det", "type": "nominal", "scale": {"domain": ["MOS", "pn"], "range": ["#ee1d23", "#111111"]}, "legend": null}
}
},
{
"data": {"name": "model"},
"mark": {"type": "line", "interpolate": "step-after", "strokeWidth": 3.2},
"encoding": {
"x": {"field": "e", "type": "quantitative", "scale": {"type": "log", "domain": [0.3, 7.87], "nice": false},
 "axis": {"orient": "top", "values": [0.3, 0.4, 0.5, 0.6, 0.7, 0.8, 0.9, 1, 2, 3, 4, 5, 6, 7], "labels": false, "domain": true, "domainColor": "#222", "domainWidth": 2.5, "ticks": true, "tickColor": "#222", "tickWidth": 2.5, "tickSize": {"condition": {"test": "datum.value == 1", "value": -15}, "value": -8}, "grid": false, "zindex": 1, "title": null}},
"y": {"field": "f", "type": "quantitative", "scale": {"type": "log", "domain": [0.0000152, 0.0406], "nice": false},
 "axis": {"orient": "right", "values": [0.00002, 0.00003, 0.00004, 0.00005, 0.00006, 0.00007, 0.00008, 0.00009, 0.0001, 0.0002, 0.0003, 0.0004, 0.0005, 0.0006, 0.0007, 0.0008, 0.0009, 0.001, 0.002, 0.003, 0.004, 0.005, 0.006, 0.007, 0.008, 0.009, 0.01, 0.02, 0.03, 0.04], "labels": false, "domain": true, "domainColor": "#222", "domainWidth": 2.5, "ticks": true, "tickColor": "#222", "tickWidth": 2.5, "tickSize": {"condition": {"test": "abs(log(datum.value)/LN10 - round(log(datum.value)/LN10)) < 0.01", "value": -17}, "value": -8}, "grid": false, "zindex": 1, "title": null}},
"color": {"field": "det", "type": "nominal", "scale": {"domain": ["MOS", "pn"], "range": ["#ee1d23", "#111111"]}, "legend": null}
}
},
{
"data": {"values": [{}]},
"mark": {"type": "rect", "fill": "white", "opacity": 0.8},
"encoding": {
"x": {"datum": 0.526, "type": "quantitative", "scale": {"type": "log", "domain": [0.3, 7.87], "nice": false}, "axis": null},
"x2": {"datum": 1.548},
"y": {"datum": 0.00111, "type": "quantitative", "scale": {"type": "log", "domain": [0.0000152, 0.0406], "nice": false}, "axis": null},
"y2": {"datum": 0.0000199}
}
},
{
"data": {"values": [{}]},
"mark": {"type": "rect", "fill": "white"},
"encoding": {
"x": {"datum": 5.72, "type": "quantitative", "scale": {"type": "log", "domain": [0.3, 7.87], "nice": false}, "axis": null},
"x2": {"datum": 7.59},
"y": {"datum": 0.000021, "type": "quantitative", "scale": {"type": "log", "domain": [0.0000152, 0.0406], "nice": false}, "axis": null},
"y2": {"datum": 0.0000158}
}
},
{
"data": {"values": [{}]},
"mark": {"type": "rect", "fill": "#c4000b"},
"encoding": {
"x": {"datum": 0.2, "type": "quantitative", "scale": {"type": "log", "domain": [0.3, 7.87], "nice": false}, "axis": null},
"x2": {"datum": 9.5},
"y": {"datum": 0.21, "type": "quantitative", "scale": {"type": "log", "domain": [0.0000152, 0.0406], "nice": false}, "axis": null},
"y2": {"datum": 0.1748}
}
},
{
"data": {"values": [{}]},
"mark": {"type": "rect", "fill": "#ff0000"},
"encoding": {
"x": {"datum": 0.2, "type": "quantitative", "scale": {"type": "log", "domain": [0.3, 7.87], "nice": false}, "axis": null},
"x2": {"datum": 9.5},
"y": {"datum": 0.1748, "type": "quantitative", "scale": {"type": "log", "domain": [0.0000152, 0.0406], "nice": false}, "axis": null},
"y2": {"datum": 0.1668}
}
},
{
"data": {"values": [{}]},
"mark": {"type": "text", "text": "Perna+2014", "font": "Liberation Sans", "fontSize": 44, "color": "#000", "align": "center", "baseline": "middle", "angle": 12},
"encoding": {
"x": {"datum": 5.45, "type": "quantitative", "scale": {"type": "log", "domain": [0.3, 7.87], "nice": false}, "axis": null},
"y": {"datum": 0.092, "type": "quantitative", "scale": {"type": "log", "domain": [0.0000152, 0.0406], "nice": false}, "axis": null}
}
},
{
"data": {"values": [{}]},
"mark": {"type": "text", "text": "XID2028", "font": "Liberation Sans", "fontSize": 50, "color": "#222", "align": "right", "baseline": "alphabetic"},
"encoding": {
"x": {"datum": 6.98, "type": "quantitative", "scale": {"type": "log", "domain": [0.3, 7.87], "nice": false}, "axis": null},
"y": {"datum": 0.0169, "type": "quantitative", "scale": {"type": "log", "domain": [0.0000152, 0.0406], "nice": false}, "axis": null}
}
},
{
"data": {"values": [{}]},
"mark": {"type": "text", "text": "pn", "font": "Liberation Sans", "fontSize": 28, "fontWeight": "bold", "color": "#111", "align": "right", "baseline": "alphabetic"},
"encoding": {
"x": {"datum": 6.98, "type": "quantitative", "scale": {"type": "log", "domain": [0.3, 7.87], "nice": false}, "axis": null},
"y": {"datum": 0.00874, "type": "quantitative", "scale": {"type": "log", "domain": [0.0000152, 0.0406], "nice": false}, "axis": null}
}
},
{
"data": {"values": [{}]},
"mark": {"type": "text", "text": "MOS", "font": "Liberation Sans", "fontSize": 28, "fontWeight": "bold", "color": "#dd3322", "align": "right", "baseline": "alphabetic"},
"encoding": {
"x": {"datum": 6.98, "type": "quantitative", "scale": {"type": "log", "domain": [0.3, 7.87], "nice": false}, "axis": null},
"y": {"datum": 0.00546, "type": "quantitative", "scale": {"type": "log", "domain": [0.0000152, 0.0406], "nice": false}, "axis": null}
}
}
],
"resolve": {"axis": {"x": "independent", "y": "independent"}}
},
{
"layer": [
{
"data": {"values": [{}]},
"mark": {"type": "rect", "fill": "white"},
"encoding": {
"x": {"datum": 0.3, "type": "quantitative", "scale": {"type": "log", "domain": [0.3, 1.3], "range": [178, 413], "nice": false}, "axis": null},
"x2": {"datum": 1.3},
"y": {"datum": 1.55, "type": "quantitative", "scale": {"type": "linear", "domain": [1.55, 2.09], "range": [504, 294], "nice": false, "zero": false}, "axis": null},
"y2": {"datum": 2.09}
}
},
{
"data": {"name": "cont"},
"mark": {"type": "line", "interpolate": "cardinal-closed", "strokeWidth": 1.4},
"encoding": {
"x": {"field": "nh", "type": "quantitative", "scale": {"type": "log", "domain": [0.3, 1.3], "range": [178, 413], "nice": false},
 "axis": {"orient": "bottom", "offset": -82, "values": [0.4, 0.5, 0.6, 0.7, 0.8, 0.9, 1], "labelExpr": "datum.value == 0.5 ? '0.5' : (datum.value == 1 ? '1' : '')", "tickSize": -6, "tickColor": "#777", "tickWidth": 1, "domainColor": "#777", "domainWidth": 1.2, "labelFont": "Liberation Serif", "labelFontSize": 13, "labelColor": "#555", "labelPadding": 10, "labelFlush": false, "labelOverlap": false, "grid": false, "zindex": 1,
  "title": "Nʜ (10⁻²² cm⁻²)", "titleFont": "Liberation Sans", "titleFontSize": 25, "titleFontWeight": "bold", "titleColor": "#000", "titleX": 313, "titleY": 53, "titleBaseline": "alphabetic", "titleAlign": "center"}},
"y": {"field": "g", "type": "quantitative", "scale": {"type": "linear", "domain": [1.55, 2.09], "range": [504, 294], "nice": false, "zero": false},
 "axis": {"orient": "left", "offset": -178, "values": [1.6, 1.7, 1.8, 1.9, 2], "labelExpr": "datum.value == 2 ? '2' : (abs(datum.value - 1.6) < 0.001 ? '1.6' : '')", "labelAngle": -90, "labelAlign": "center", "labelBaseline": "bottom", "tickSize": -6, "tickColor": "#777", "tickWidth": 1, "domainColor": "#777", "domainWidth": 1.2, "labelFont": "Liberation Serif", "labelFontSize": 13, "labelColor": "#555", "labelPadding": 11, "labelFlush": false, "labelOverlap": false, "grid": false, "zindex": 1,
  "title": "Γ", "titleFont": "Liberation Sans", "titleFontSize": 38, "titleFontWeight": "bold", "titleColor": "#000", "titleAngle": -90, "titleX": -36, "titleY": 422, "titleAlign": "center", "titleBaseline": "middle"}},
"color": {"field": "lvl", "type": "nominal", "scale": {"domain": ["a", "b", "c"], "range": ["#333333", "#dd4444", "#55d055"]}, "legend": null},
"order": {"field": "i", "type": "quantitative"}
}
},
{
"data": {"values": [{"nh": 0.713, "g": 1.838}]},
"mark": {"type": "point", "shape": "M-1,0L1,0M0,-1L0,1", "size": 25, "stroke": "#333", "strokeWidth": 1, "filled": false, "opacity": 1},
"encoding": {
"x": {"field": "nh", "type": "quantitative", "scale": {"type": "log", "domain": [0.3, 1.3], "range": [178, 413], "nice": false},
 "axis": {"orient": "top", "offset": -294, "values": [0.4, 0.5, 0.6, 0.7, 0.8, 0.9, 1], "labels": false, "tickSize": -6, "tickColor": "#777", "tickWidth": 1, "domainColor": "#777", "domainWidth": 1.2, "grid": false, "zindex": 1, "title": null}},
"y": {"field": "g", "type": "quantitative", "scale": {"type": "linear", "domain": [1.55, 2.09], "range": [504, 294], "nice": false, "zero": false},
 "axis": {"orient": "right", "offset": -477, "values": [1.6, 1.7, 1.8, 1.9, 2], "labels": false, "tickSize": -6, "tickColor": "#777", "tickWidth": 1, "domainColor": "#777", "domainWidth": 1.2, "grid": false, "zindex": 1, "title": null}}
}
},
{
"data": {"values": [{}]},
"mark": {"type": "text", "text": "Nʜ=7x10²¹ cm⁻²", "font": "Liberation Sans", "fontSize": 16, "color": "#333", "align": "left", "baseline": "middle"},
"encoding": {
"x": {"datum": 0.319, "type": "quantitative", "scale": {"type": "log", "domain": [0.3, 1.3], "range": [178, 413], "nice": false}, "axis": null},
"y": {"datum": 2.035, "type": "quantitative", "scale": {"type": "linear", "domain": [1.55, 2.09], "range": [504, 294], "nice": false, "zero": false}, "axis": null}
}
}
],
"resolve": {"axis": {"x": "independent", "y": "independent"}}
}
],
"resolve": {"scale": {"x": "independent", "y": "independent", "color": "independent"}, "axis": {"x": "independent", "y": "independent"}}
}
